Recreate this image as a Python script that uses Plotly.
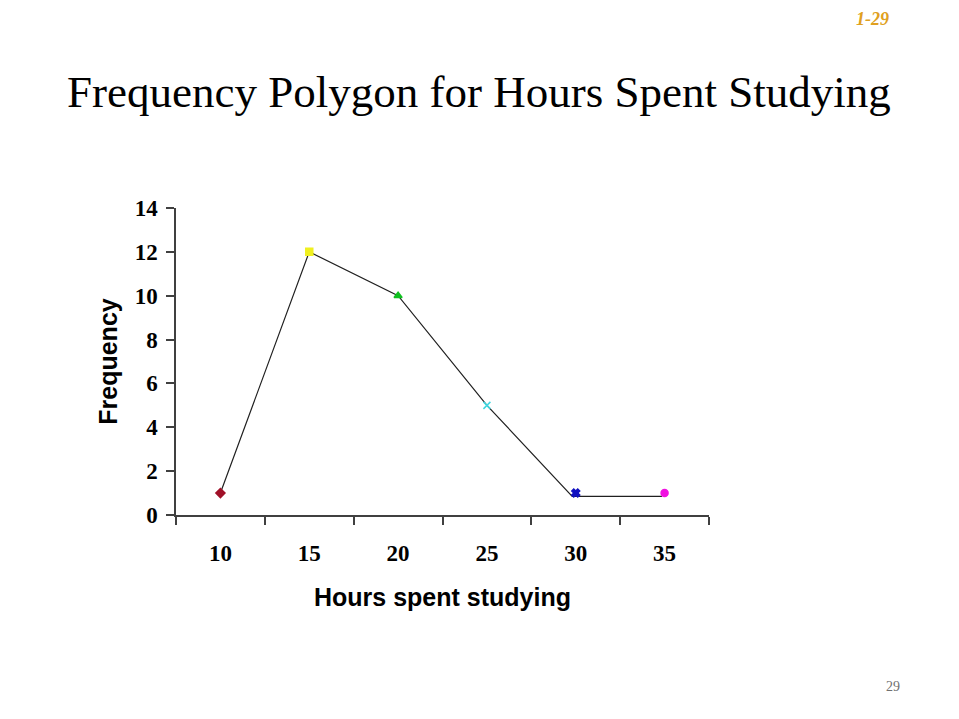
import plotly.graph_objects as go

hours = [10, 15, 20, 25, 30, 35]
frequency = [1, 12, 10, 5, 1, 1]
# polygon as drawn on the slide (ends slightly below the last markers)
polygon_x = [10, 15, 20, 25, 29.8, 30.1, 34.85]
polygon_y = [1, 12, 10, 5, 0.85, 0.85, 0.85]
marker_symbols = ["diamond", "square", "triangle-up", "x-thin", "x", "circle"]
marker_colors = ["#A01028", "#F0F020", "#10C020", "#40D8E0", "#1010C0", "#F010E0"]
y_ticks = [0, 2, 4, 6, 8, 10, 12, 14]
x_bounds = [7.5, 12.5, 17.5, 22.5, 27.5, 32.5, 37.5]

fig = go.Figure()
fig.add_trace(go.Scatter(x=polygon_x, y=polygon_y, mode="lines",
                         line=dict(color="#202020", width=1.2), hoverinfo="skip",
                         showlegend=False))
fig.add_trace(go.Scatter(x=hours, y=frequency, mode="markers",
                         marker=dict(symbol=marker_symbols, color=marker_colors, size=7,
                                     line=dict(color=marker_colors, width=1.5)),
                         showlegend=False))
fig.add_trace(go.Scatter(x=hours, y=frequency, mode="markers", xaxis="x2",
                         marker=dict(size=0.1, opacity=0), showlegend=False, hoverinfo="skip"))

tick_font = dict(family="Liberation Serif, Times New Roman, serif", size=23, color="black")
title_font = dict(family="Liberation Sans, Arial, sans-serif", size=25, color="black")

L, T, W, H = 168, 200, 533, 307

fig.update_layout(
    width=959, height=719,
    paper_bgcolor="white", plot_bgcolor="white",
    margin=dict(l=L, r=959 - L - W, t=T, b=719 - T - H),
    xaxis=dict(range=[7.5, 37.5], tickvals=x_bounds, ticktext=[""] * len(x_bounds),
               ticks="outside", ticklen=8, tickcolor="#404040", tickwidth=1.5,
               showline=True, linecolor="#404040", linewidth=1.5,
               showgrid=False, zeroline=False),
    xaxis2=dict(range=[7.5, 37.5], overlaying="x", side="bottom", anchor="y",
                tickvals=hours, ticktext=["<b>%d</b>" % h for h in hours], ticks="",
                ticklabelstandoff=22, tickfont=tick_font, showgrid=False,
                zeroline=False, showline=False,
                title=dict(text="<b>Hours spent studying</b>", font=title_font, standoff=23)),
    yaxis=dict(range=[0, 14], tickvals=y_ticks, ticktext=["<b>%d</b>" % v for v in y_ticks],
               ticks="outside", ticklen=8,
               tickcolor="#404040", tickwidth=1.5, showline=True, linecolor="#404040",
               linewidth=1.5, showgrid=False, zeroline=False,
               tickfont=tick_font, ticklabelstandoff=4,
               title=dict(text="<b>Frequency</b>", font=title_font, standoff=10)),
)

def px(xp, yp):
    return (xp - L) / W, (T + H - yp) / H

tx, ty = px(479 - 8, 92 - 8)
fig.add_annotation(text="Frequency Polygon for Hours Spent Studying", xref="paper", yref="paper",
                   x=tx, y=ty, xanchor="center", yanchor="middle", showarrow=False,
                   font=dict(family="Liberation Serif, Times New Roman, serif", size=45, color="black"))
tx, ty = px(872 - 8, 8 - 8)
fig.add_annotation(text="<b><i>1-29</i></b>", xref="paper", yref="paper",
                   x=tx, y=ty, xanchor="center", yanchor="top", showarrow=False,
                   borderpad=0,
                   font=dict(family="Liberation Serif, Times New Roman, serif", size=18, color="#E0A020"))
tx, ty = px(893 - 8, 686 - 8)
fig.add_annotation(text="29", xref="paper", yref="paper",
                   x=tx, y=ty, xanchor="center", yanchor="middle", showarrow=False,
                   font=dict(family="Liberation Serif, Times New Roman, serif", size=14, color="#707070"))

fig.write_html("out.html")
